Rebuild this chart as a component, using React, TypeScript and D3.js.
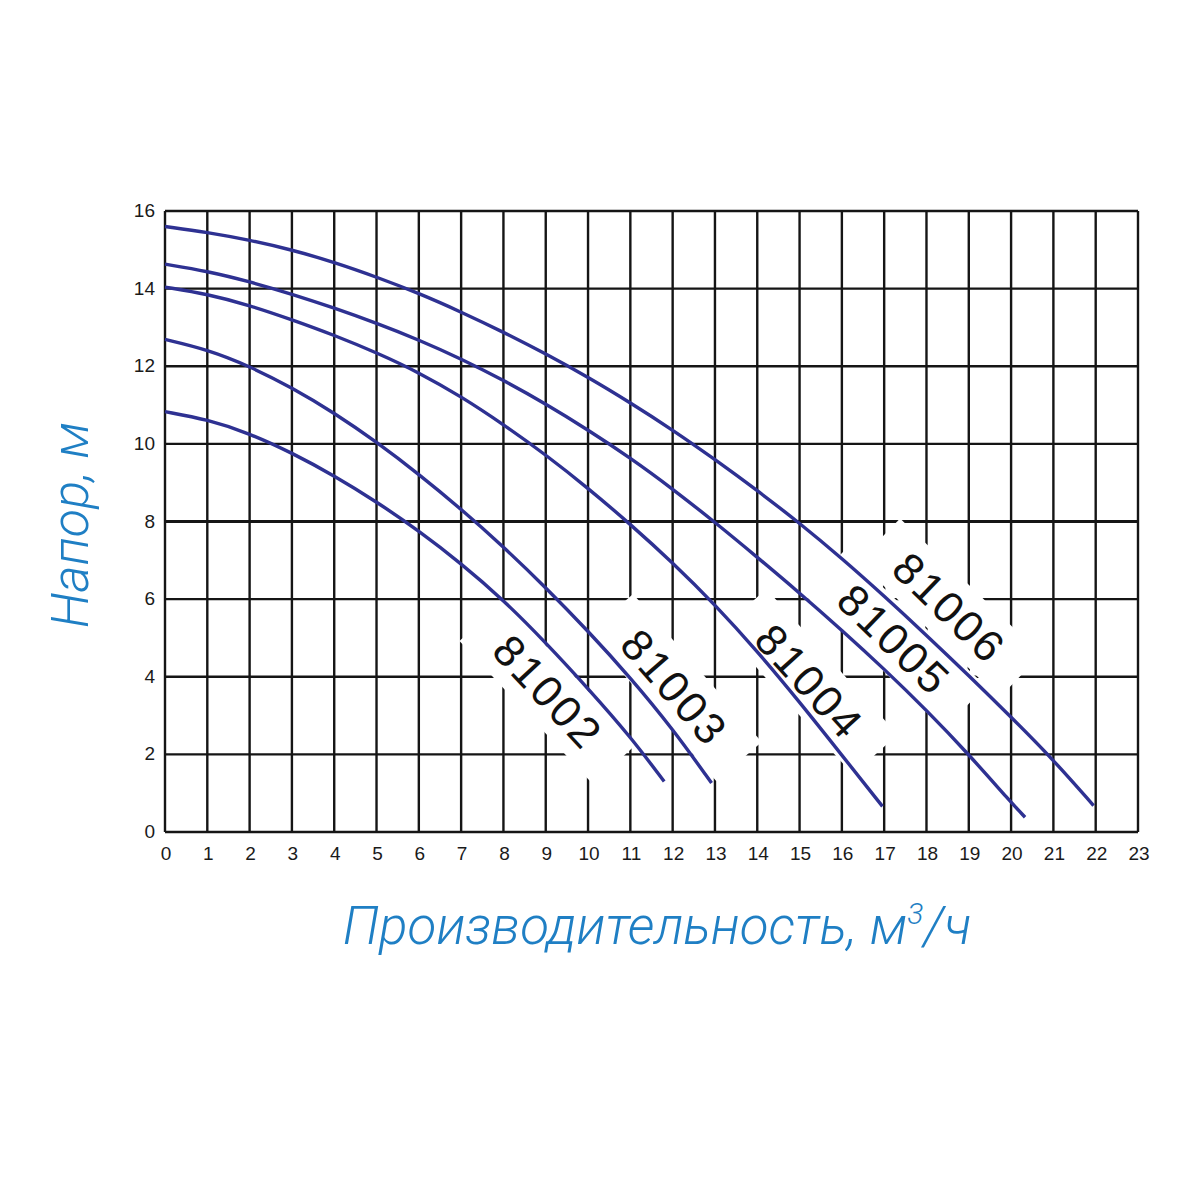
import React, { useEffect, useRef } from "react";
import * as d3 from "d3";

// Flow, m3/h (x) and head, m (y)
const pumpNames = ["81002", "81003", "81004", "81005", "81006"];

const flow81002 = [0, 1, 2, 3, 4, 5, 6, 7, 8, 9, 10, 11, 11.8];
const head81002 = [10.83, 10.63, 10.27, 9.77, 9.18, 8.51, 7.76, 6.92, 5.98, 4.88, 3.7, 2.46, 1.3];

const flow81003 = [0, 1, 2, 3, 4, 5, 6, 7, 8, 9, 10, 11, 12, 12.92];
const head81003 = [12.69, 12.43, 12.0, 11.45, 10.8, 10.05, 9.22, 8.32, 7.35, 6.3, 5.18, 3.98, 2.66, 1.26];

const flow81004 = [0, 1, 2, 3, 4, 5, 6, 7, 8, 9, 10, 11, 12, 13, 14, 15, 16, 16.96];
const head81004 = [14.04, 13.86, 13.57, 13.2, 12.8, 12.35, 11.84, 11.22, 10.5, 9.72, 8.86, 7.93, 6.94, 5.86, 4.66, 3.35, 1.98, 0.66];

const flow81005 = [0, 1, 2, 3, 4, 5, 6, 7, 8, 9, 10, 11, 12, 13, 14, 15, 16, 17, 18, 19, 20, 20.33];
const head81005 = [14.63, 14.45, 14.18, 13.86, 13.5, 13.11, 12.68, 12.19, 11.64, 11.03, 10.36, 9.64, 8.84, 7.98, 7.08, 6.16, 5.2, 4.2, 3.14, 2.0, 0.76, 0.38];

const flow81006 = [0, 1, 2, 3, 4, 5, 6, 7, 8, 9, 10, 11, 12, 13, 14, 15, 16, 17, 18, 19, 20, 21, 21.95];
const head81006 = [15.6, 15.45, 15.25, 15.0, 14.68, 14.3, 13.88, 13.4, 12.88, 12.32, 11.72, 11.06, 10.36, 9.6, 8.8, 7.96, 7.05, 6.08, 5.07, 4.03, 2.96, 1.86, 0.68];

const flows = [flow81002, flow81003, flow81004, flow81005, flow81006];
const heads = [head81002, head81003, head81004, head81005, head81006];

// where each model label sits (data coords) and its tilt
const labelFlow = [9.06, 12.05, 15.24, 17.24, 18.55];
const labelHead = [3.6, 3.72, 3.87, 4.95, 5.77];
const labelAngle = [47, 49, 48, 44, 44];

const xTicks = d3.range(0, 24);
const yTicks = [0, 2, 4, 6, 8, 10, 12, 14, 16];

export default function App() {
  const svgRef = useRef<SVGSVGElement>(null);

  useEffect(() => {
    if (!svgRef.current) return;
    const svg = d3.select(svgRef.current);
    svg.selectAll("*").remove();

    const x = d3.scaleLinear().domain([0, 23]).range([165, 1138]);
    const y = d3.scaleLinear().domain([0, 16]).range([832, 211]);

    svg.append("rect").attr("width", 1200).attr("height", 1200).attr("fill", "#fff");

    const grid = svg.append("g").attr("stroke", "#151515");

    // vertical grid lines
    grid
      .selectAll("line.v")
      .data(xTicks)
      .enter()
      .append("line")
      .attr("x1", (d) => x(d))
      .attr("x2", (d) => x(d))
      .attr("y1", y(0))
      .attr("y2", y(16))
      .attr("stroke-width", 2.4);

    // horizontal grid lines, the 8 m line is heavier
    grid
      .selectAll("line.h")
      .data(yTicks)
      .enter()
      .append("line")
      .attr("x1", x(0))
      .attr("x2", x(23))
      .attr("y1", (d) => y(d))
      .attr("y2", (d) => y(d))
      .attr("stroke-width", (d) => (d === 8 ? 3.2 : 2.4));

    // white patches behind the model labels
    const labels = svg
      .append("g")
      .selectAll("g.lbl")
      .data(pumpNames)
      .enter()
      .append("g")
      .attr(
        "transform",
        (_d, i) =>
          `translate(${x(labelFlow[i])},${y(labelHead[i])}) rotate(${labelAngle[i]})`
      );

    labels
      .append("rect")
      .attr("x", -98)
      .attr("y", -30)
      .attr("width", 196)
      .attr("height", 60)
      .attr("fill", "#fff");

    // pump curves
    const line = d3
      .line<[number, number]>()
      .x((d) => x(d[0]))
      .y((d) => y(d[1]))
      .curve(d3.curveBasis);

    svg
      .append("g")
      .selectAll("path")
      .data(flows.map((f, i) => f.map((v, j) => [v, heads[i][j]] as [number, number])))
      .enter()
      .append("path")
      .attr("d", (d) => line(d))
      .attr("fill", "none")
      .attr("stroke", "#2e3192")
      .attr("stroke-width", 3.4);

    labels
      .append("text")
      .attr("text-anchor", "middle")
      .attr("dominant-baseline", "central")
      .attr("font-family", "'Liberation Sans', Arial, sans-serif")
      .attr("font-size", 44)
      .attr("letter-spacing", 3)
      .attr("fill", "#111")
      .text((d) => d);

    // tick labels
    svg
      .append("g")
      .selectAll("text")
      .data(xTicks)
      .enter()
      .append("text")
      .attr("x", (d) => x(d) + 1)
      .attr("y", 860)
      .attr("text-anchor", "middle")
      .attr("font-family", "'Liberation Sans', Arial, sans-serif")
      .attr("font-size", 19)
      .attr("fill", "#1a1a1a")
      .text((d) => d);

    svg
      .append("g")
      .selectAll("text")
      .data(yTicks)
      .enter()
      .append("text")
      .attr("x", 155)
      .attr("y", (d) => y(d) + 6)
      .attr("text-anchor", "end")
      .attr("font-family", "'Liberation Sans', Arial, sans-serif")
      .attr("font-size", 19)
      .attr("fill", "#1a1a1a")
      .text((d) => d);

    // axis titles
    const xTitle = svg
      .append("text")
      .attr("x", 657)
      .attr("y", 944)
      .attr("text-anchor", "middle")
      .attr("font-family", "Roboto, 'Liberation Sans', sans-serif")
      .attr("font-weight", 300)
      .attr("font-style", "italic")
      .attr("font-size", 53)
      .attr("fill", "#1f7fc4");
    xTitle.append("tspan").text("Производительность, м");
    xTitle.append("tspan").attr("font-size", 30).attr("dy", -20).text("3");
    xTitle.append("tspan").attr("dy", 20).text("/ч");

    svg
      .append("text")
      .attr("transform", "translate(88,525) rotate(-90)")
      .attr("text-anchor", "middle")
      .attr("font-family", "Roboto, 'Liberation Sans', sans-serif")
      .attr("font-weight", 300)
      .attr("font-style", "italic")
      .attr("font-size", 52)
      .attr("fill", "#1f7fc4")
      .text("Напор, м");
  }, []);

  return (
    <div style={{ position: "absolute", left: 0, top: 0 }}>
      <svg ref={svgRef} width={1200} height={1200} />
    </div>
  );
}
